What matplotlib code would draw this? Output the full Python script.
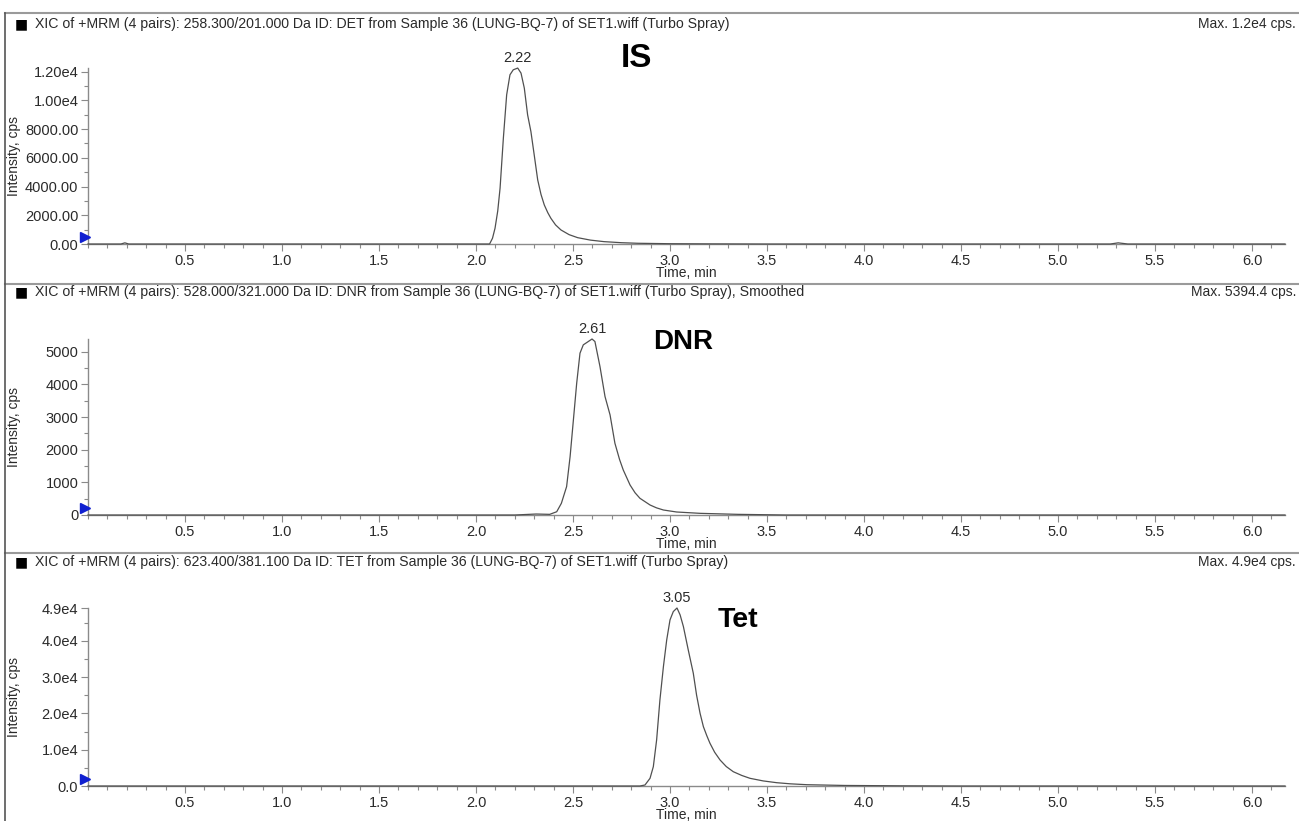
#!/usr/bin/env python3
"""Three stacked XIC chromatograms (IS / DNR / Tet), Analyst-style layout."""

import matplotlib
matplotlib.use("Agg")
import matplotlib.pyplot as plt
import matplotlib.transforms as mtransforms
from matplotlib.lines import Line2D
from matplotlib.ticker import FixedFormatter, FixedLocator, MultipleLocator

plt.rcParams["font.family"] = ["Liberation Sans", "DejaVu Sans"]

TITLES = [
    "XIC of +MRM (4 pairs): 258.300/201.000 Da ID: DET from Sample 36 (LUNG-BQ-7) of SET1.wiff (Turbo Spray)",
    "XIC of +MRM (4 pairs): 528.000/321.000 Da ID: DNR from Sample 36 (LUNG-BQ-7) of SET1.wiff (Turbo Spray), Smoothed",
    "XIC of +MRM (4 pairs): 623.400/381.100 Da ID: TET from Sample 36 (LUNG-BQ-7) of SET1.wiff (Turbo Spray)",
]
MAX_TEXT = ["Max. 1.2e4 cps.", "Max. 5394.4 cps.", "Max. 4.9e4 cps."]
COMPOUNDS = ["IS", "DNR", "Tet"]
PEAK_LABELS = ["2.22", "2.61", "3.05"]

# traces (time in min, intensity in cps)
IS_TIME = [0.0, 0.17, 0.19, 0.21, 2.07, 2.085, 2.098, 2.112, 2.124, 2.141, 2.158, 2.175, 2.192,
           2.215, 2.232, 2.249, 2.266, 2.283, 2.300, 2.318, 2.335, 2.352, 2.37, 2.386, 2.41,
           2.438, 2.48, 2.524, 2.59, 2.660, 2.75, 2.835, 3.0, 3.2, 3.5, 5.27, 5.31, 5.36, 6.17]
IS_INT = [0, 0, 80, 0, 0, 400, 1094, 2300, 3880, 7366, 10383, 11777, 12125,
          12245, 11895, 10850, 8990, 7826, 6202, 4460, 3450, 2718, 2180, 1789, 1330,
          976, 650, 441, 270, 164, 90, 50, 20, 10, 0, 0, 80, 0, 0]

DNR_TIME = [0.0, 2.2, 2.31, 2.38, 2.416, 2.44, 2.467, 2.485, 2.502, 2.519, 2.536, 2.553,
            2.571, 2.598, 2.613, 2.639, 2.665, 2.691, 2.716, 2.74, 2.759, 2.794, 2.82, 2.845,
            2.897, 2.93, 2.966, 3.034, 3.155, 3.35, 3.6, 6.17]
DNR_INT = [0, 0, 30, 20, 100, 358, 870, 1790, 2914, 4040, 4960, 5215,
           5286, 5394.4, 5317, 4550, 3630, 3067, 2199, 1700, 1380, 920, 680, 512,
           307, 220, 153, 92, 51, 20, 0, 0]

TET_TIME = [0.0, 2.845, 2.871, 2.897, 2.914, 2.931, 2.948, 2.966, 2.983, 3.0, 3.017, 3.036,
            3.052, 3.069, 3.094, 3.12, 3.137, 3.155, 3.172, 3.19, 3.206, 3.23, 3.258, 3.29,
            3.326, 3.37, 3.412, 3.48, 3.55, 3.62, 3.704, 3.9, 4.2, 4.5, 6.17]
TET_INT = [0, 0, 275, 2120, 5320, 12670, 23690, 32870, 40220, 45730, 48020, 49000,
           47110, 43890, 37470, 31050, 25000, 20000, 16340, 13800, 11760, 9300, 7160, 5350,
           3940, 2900, 2120, 1400, 910, 600, 360, 150, 50, 0, 0]

X_TICKS = [0.5, 1.0, 1.5, 2.0, 2.5, 3.0, 3.5, 4.0, 4.5, 5.0, 5.5, 6.0]
X_TICK_LABELS = ["0.5", "1.0", "1.5", "2.0", "2.5", "3.0", "3.5", "4.0", "4.5", "5.0", "5.5", "6.0"]

Y_TICKS = [
    [0, 2000, 4000, 6000, 8000, 10000, 12000],
    [0, 1000, 2000, 3000, 4000, 5000],
    [0, 10000, 20000, 30000, 40000, 49000],
]
Y_TICK_LABELS = [
    ["0.00", "2000.00", "4000.00", "6000.00", "8000.00", "1.00e4", "1.20e4"],
    ["0", "1000", "2000", "3000", "4000", "5000"],
    ["0.0", "1.0e4", "2.0e4", "3.0e4", "4.0e4", "4.9e4"],
]
Y_MAX = [12250, 5394.4, 49000]
Y_MINOR = [1000, 500, 5000]

W, H = 1299, 821
AXIS_GRAY = "#8a8a8a"
TEXT = "#2a2a2a"


def fx(px):
    return px / W


def fy(py):
    return 1 - py / H


def main():
    fig = plt.figure(figsize=(W / 100, H / 100), dpi=100)
    fig.patch.set_facecolor("white")

    # (top px, bottom px) of each plotting area, separator line, title row
    rows = [(68, 244, 13, 24), (339, 515, 284, 292), (608, 786, 553, 562)]
    traces = [(IS_TIME, IS_INT), (DNR_TIME, DNR_INT), (TET_TIME, TET_INT)]
    name_pos = [(2.825, 12890, 24), (3.067, 5307, 20), (3.35, 45730, 20.5)]

    left, right = 88, 1285
    for i, (top, bottom, sep, title_y) in enumerate(rows):
        ax = fig.add_axes([fx(left), fy(bottom), fx(right - left), (bottom - top) / H])
        t, v = traces[i]
        ax.plot(t, v, color="#505050", lw=0.9, clip_on=False, zorder=3)

        ax.set_xlim(0, 6.17)
        ax.set_ylim(0, Y_MAX[i])
        for s in ("top", "right"):
            ax.spines[s].set_visible(False)
        for s in ("left", "bottom"):
            ax.spines[s].set_color(AXIS_GRAY)
            ax.spines[s].set_linewidth(1.0)

        ax.xaxis.set_major_locator(FixedLocator(X_TICKS))
        ax.xaxis.set_major_formatter(FixedFormatter(X_TICK_LABELS))
        ax.xaxis.set_minor_locator(MultipleLocator(0.1))
        ax.yaxis.set_major_locator(FixedLocator(Y_TICKS[i]))
        ax.yaxis.set_major_formatter(FixedFormatter(Y_TICK_LABELS[i]))
        ax.yaxis.set_minor_locator(MultipleLocator(Y_MINOR[i]))
        ax.tick_params(which="major", length=5, width=0.8, color=AXIS_GRAY,
                       labelsize=10.5, labelcolor=TEXT, pad=2)
        ax.tick_params(which="minor", length=3, width=0.8, color=AXIS_GRAY)

        ax.set_xlabel("Time, min", fontsize=10, color=TEXT, labelpad=-1)
        ax.set_ylabel("Intensity, cps", fontsize=10, color=TEXT)
        ax.yaxis.set_label_coords((21 - left) / (right - left), 0.5)

        # blue baseline marker at the y axis
        off = mtransforms.ScaledTranslation(-0.03, 0.07, fig.dpi_scale_trans)
        ax.plot([0], [0], marker=">", color="#1020d0", ms=7, clip_on=False,
                transform=ax.transData + off, zorder=4)

        # peak apex label and compound name
        k = max(range(len(v)), key=lambda j: v[j])
        ax.annotate(PEAK_LABELS[i], (t[k], v[k]), xytext=(0, 2), textcoords="offset points",
                    ha="center", va="bottom", fontsize=10.5, color=TEXT, annotation_clip=False)
        nx, ny, nsize = name_pos[i]
        ax.text(nx, ny, COMPOUNDS[i], fontsize=nsize, fontweight="bold", color="black",
                ha="center", va="center", clip_on=False)

        # panel header
        fig.add_artist(Line2D([fx(5), 1], [fy(sep), fy(sep)], color="#9a9a9a", lw=1.5,
                              transform=fig.transFigure))
        fig.text(fx(15), fy(title_y), "\u25a0", fontsize=10, va="center", ha="left",
                 color="black", family=["DejaVu Sans"])
        fig.text(fx(35), fy(title_y), TITLES[i], fontsize=10.2, va="center", ha="left", color=TEXT)
        fig.text(fx(1296), fy(title_y), MAX_TEXT[i], fontsize=10, va="center", ha="right", color=TEXT)

    fig.add_artist(Line2D([fx(5), fx(5)], [0, fy(13)], color="#555555", lw=1.2,
                          transform=fig.transFigure))

    fig.savefig("out.png", dpi=100)
    plt.close(fig)


if __name__ == "__main__":
    main()
